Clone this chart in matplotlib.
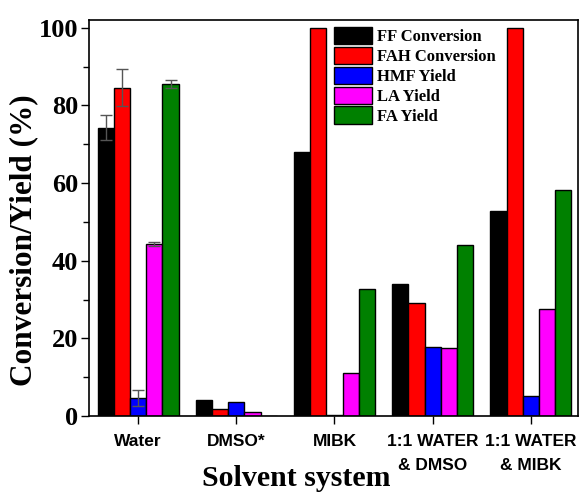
import numpy as np
import matplotlib
matplotlib.use("Agg")
import matplotlib.pyplot as plt
from matplotlib.ticker import MultipleLocator

# data
solvents = ["Water", "DMSO*", "MIBK", "1:1 WATER\n& DMSO", "1:1 WATER\n& MIBK"]
series = ["FF Conversion", "FAH Conversion", "HMF Yield", "LA Yield", "FA Yield"]
ff_conv = [74.3, 4.0, 68.0, 34.0, 52.8]
fah_conv = [84.6, 1.9, 100.0, 29.0, 100.0]
hmf_yield = [4.6, 3.5, 0.2, 17.8, 5.2]
la_yield = [44.3, 1.0, 11.0, 17.4, 27.5]
fa_yield = [85.5, 0.0, 32.7, 44.1, 58.2]
ff_err = [3.2, 0, 0, 0, 0]
fah_err = [4.8, 0, 0, 0, 0]
hmf_err = [2.0, 0, 0, 0, 0]
la_err = [0.5, 0, 0, 0, 0]
fa_err = [1.0, 0, 0, 0, 0]

values = [ff_conv, fah_conv, hmf_yield, la_yield, fa_yield]
errors = [ff_err, fah_err, hmf_err, la_err, fa_err]
colors = ["#000000", "#ff0000", "#0000ff", "#ff00ff", "#008000"]

serif = ["Liberation Serif", "DejaVu Serif"]
sans = ["Liberation Sans", "DejaVu Sans"]

fig = plt.figure(figsize=(5.85, 4.94), dpi=100)
ax = fig.add_axes([89/585, 1 - 416/494, (578-89)/585, (416-20)/494])

x = np.arange(len(solvents))
w = 0.165
for i in range(len(series)):
    pos = x + (i - 2) * w
    ax.bar(pos, values[i], width=w, color=colors[i], edgecolor="black",
           linewidth=1.0, label=series[i])
    err = np.array(errors[i])
    m = err > 0
    if m.any():
        ax.errorbar(pos[m], np.array(values[i])[m], yerr=err[m], fmt="none",
                    ecolor="#555555", elinewidth=1.0, capsize=4, capthick=1.0)

ax.set_xlim(-0.5, 4.48)
ax.set_ylim(0, 102)
ax.yaxis.set_major_locator(MultipleLocator(20))
ax.yaxis.set_minor_locator(MultipleLocator(10))
ax.set_xticks(x)
ax.set_xticklabels(solvents, fontfamily=sans, fontweight="bold", fontsize=12.5,
                   linespacing=1.75, va="top")
for lab in ax.get_yticklabels():
    lab.set_fontfamily(serif)
    lab.set_fontweight("bold")
    lab.set_fontsize(19)
ax.tick_params(axis="y", which="major", length=6, width=1, direction="out", pad=2)
ax.tick_params(axis="y", which="minor", length=4, width=1, direction="out")
ax.tick_params(axis="x", which="major", length=6, width=1, direction="out", pad=7)
ax.tick_params(top=False, right=False)
for s in ax.spines.values():
    s.set_linewidth(1.2)

ax.set_ylabel("Conversion/Yield (%)", fontfamily=serif, fontweight="bold",
              fontsize=22.5)
ax.yaxis.set_label_coords(-0.104, 0.444)
ax.set_xlabel("Solvent system", fontfamily=serif, fontweight="bold",
              fontsize=21.5)
ax.xaxis.set_label_coords(0.423, -0.125)

leg = ax.legend(loc="upper left", bbox_to_anchor=(0.501, 0.982), frameon=False,
                prop={"family": serif, "weight": "bold", "size": 12},
                handlelength=2.3, handleheight=1.2, handletextpad=0.3,
                labelspacing=0.1, borderaxespad=0, borderpad=0)

fig.savefig("out.png", dpi=100)
